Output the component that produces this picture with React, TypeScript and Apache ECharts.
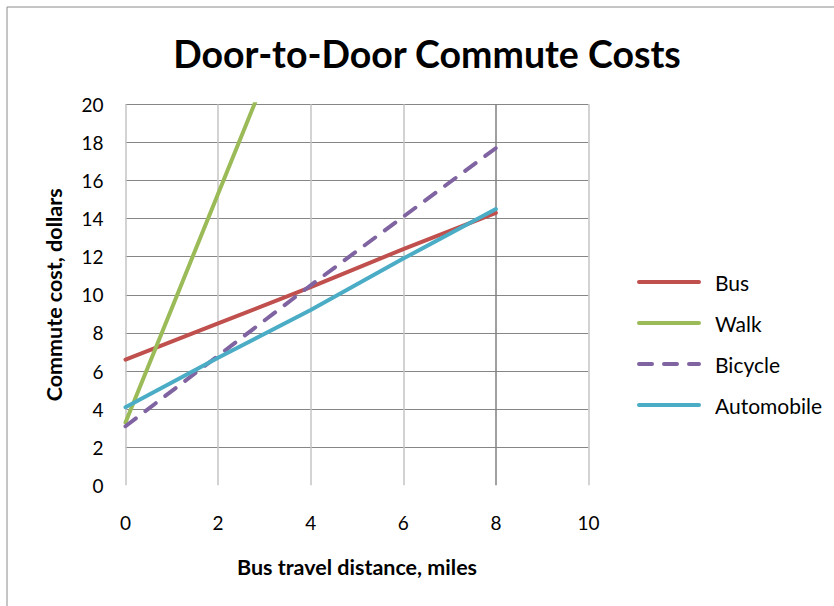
import React, { useEffect, useRef } from "react";
import * as echarts from "echarts";

const xTicks = [0, 2, 4, 6, 8, 10];
const yTicks = [0, 2, 4, 6, 8, 10, 12, 14, 16, 18, 20];

const distances = [0, 2, 4, 6, 8];
const busCost = [6.6, 8.5, 10.4, 12.4, 14.3];
const bicycleCost = [3.1, 6.8, 10.5, 14.1, 17.7];
const autoCost = [4.1, 6.7, 9.2, 11.9, 14.5];

const walkDistances = [0, 1, 2, 3];
const walkCost = [3.3, 9.3, 15.3, 21.3];

const seriesNames = ["Bus", "Walk", "Bicycle", "Automobile"];
const seriesColors = ["#C0504D", "#9BBB59", "#8064A2", "#4BACC6"];

const FONT = "Lato";

function pairs(xs: number[], ys: number[]) {
  return xs.map((x, i) => [x, ys[i]]);
}

export default function App() {
  const ref = useRef<HTMLDivElement>(null);

  useEffect(() => {
    if (!ref.current) return;
    const chart = echarts.init(ref.current, null, { renderer: "svg" });
    const mk = (idx: number, data: number[][], dashed = false) => ({
      name: seriesNames[idx],
      type: "line",
      data,
      showSymbol: false,
      symbol: "none",
      clip: true,
      lineStyle: {
        color: seriesColors[idx],
        width: 4,
        type: dashed ? [13, 12] : "solid",
        cap: "round",
      },
      itemStyle: { color: seriesColors[idx] },
    });
    chart.setOption({
      animation: false,
      backgroundColor: "#ffffff",
      textStyle: { fontFamily: FONT },
      title: {
        text: "Door-to-Door Commute Costs",
        left: 422,
        textAlign: "center",
        top: 29,
        textStyle: { fontFamily: FONT, fontWeight: "bold", fontSize: 37.5, color: "#000" },
      },
      graphic: [
        {
          type: "rect",
          shape: { x: 7, y: 7, width: 900, height: 700 },
          style: { fill: "none", stroke: "#8c8c8c", lineWidth: 1 },
          silent: true,
        },
      ],
      grid: { left: 125.5, right: 245.5, top: 104.3, bottom: 120.7, containLabel: false },
      xAxis: {
        type: "value",
        min: xTicks[0],
        max: xTicks[xTicks.length - 1],
        interval: 2,
        name: "Bus travel distance, miles",
        nameLocation: "middle",
        nameGap: 71,
        nameTextStyle: { fontFamily: FONT, fontWeight: "bold", fontSize: 21.5, color: "#000" },
        axisLine: { show: false },
        axisTick: { show: false },
        axisLabel: { margin: 28, fontSize: 19, color: "#000", fontFamily: FONT },
        splitLine: {
          show: true,
          lineStyle: {
            color: ["#c4c4c4", "#c4c4c4", "#c4c4c4", "#c4c4c4", "#808080", "#c4c4c4"],
            width: 1.5,
          },
        },
      },
      yAxis: {
        type: "value",
        min: yTicks[0],
        max: yTicks[yTicks.length - 1],
        interval: 2,
        name: "Commute cost, dollars",
        nameLocation: "middle",
        nameGap: 61,
        nameTextStyle: { fontFamily: FONT, fontWeight: "bold", fontSize: 21.5, color: "#000" },
        axisLine: { show: false },
        axisTick: { show: false },
        axisLabel: { margin: 22, fontSize: 19, color: "#000", fontFamily: FONT },
        splitLine: {
          show: true,
          lineStyle: {
            color: ["rgba(0,0,0,0)", ...yTicks.slice(1).map(() => "#868686")],
            width: 1,
          },
        },
      },
      legend: {
        orient: "vertical",
        left: 632,
        top: 266,
        itemWidth: 60,
        itemHeight: 2,
        itemGap: 19,
        data: seriesNames,
        lineStyle: { width: 4 },
        itemStyle: { opacity: 0 },
        textStyle: {
          fontFamily: FONT,
          fontSize: 21,
          color: "#000",
          lineHeight: 22,
          padding: [0, 0, 0, 11],
        },
      },
      series: [
        mk(0, pairs(distances, busCost)),
        mk(1, pairs(walkDistances, walkCost)),
        mk(2, pairs(distances, bicycleCost), true),
        mk(3, pairs(distances, autoCost)),
      ],
    });
    return () => chart.dispose();
  }, []);

  return (
    <div
      ref={ref}
      style={{ position: "fixed", left: 0, top: 0, width: 834, height: 606, background: "#fff" }}
    />
  );
}
